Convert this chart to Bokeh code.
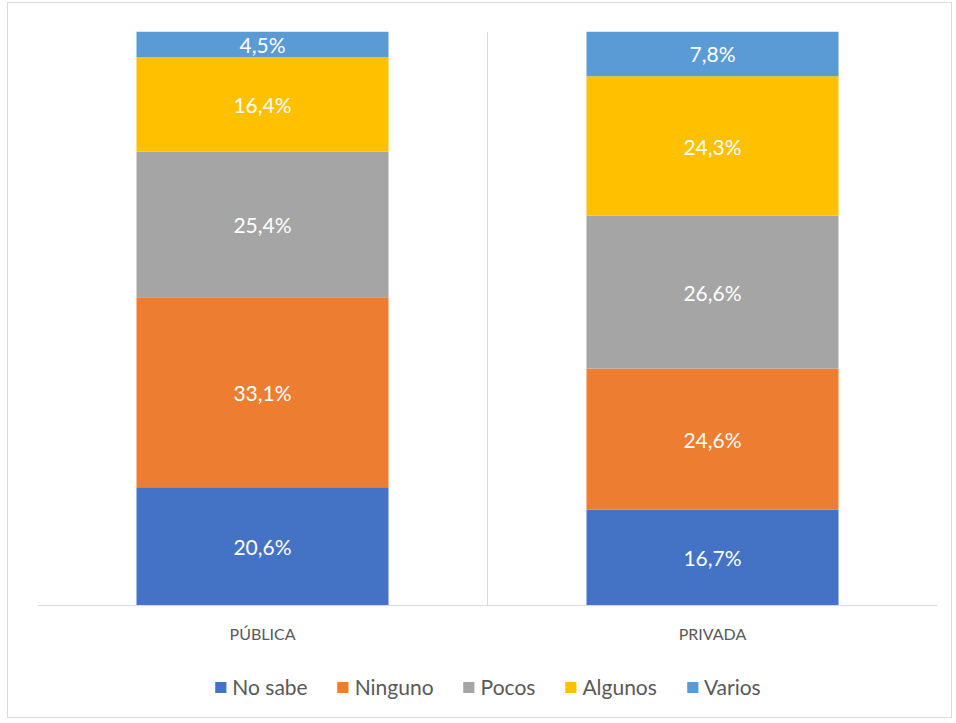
from bokeh.plotting import figure
from bokeh.models import ColumnDataSource, FixedTicker, Legend, LegendItem, LabelSet, Range1d, Span
from bokeh.core.properties import value
from bokeh.embed import file_html
from bokeh.resources import INLINE

categories = ["PÚBLICA", "PRIVADA"]
series = ["No sabe", "Ninguno", "Pocos", "Algunos", "Varios"]
no_sabe = [20.6, 16.7]
ninguno = [33.1, 24.6]
pocos = [25.4, 26.6]
algunos = [16.4, 24.3]
varios = [4.5, 7.8]
colors = ["#4472C4", "#ED7D31", "#A5A5A5", "#FFC000", "#5B9BD5"]

values = [no_sabe, ninguno, pocos, algunos, varios]
xpos = [0.5 + i for i in range(len(categories))]

FONT = "Lato"
GRAY = "#595959"
LINE = "#D9D9D9"

# layout: bars occupy 574 px for 0..100; the frame extends 112 px further down
# to hold the category labels and the legend
BAR_PX = 574
EXTRA_PX = 112
ymin = -100.0 * EXTRA_PX / BAR_PX

p = figure(frame_width=900, frame_height=BAR_PX + EXTRA_PX,
           min_border_left=29, min_border_right=14, min_border_top=28, min_border_bottom=0,
           x_range=Range1d(0, 2), y_range=Range1d(ymin, 100),
           output_backend="svg", toolbar_location=None,
           styles={"border": "1px solid #D9D9D9", "margin": "2px 0 0 7px"})
p.outline_line_color = None
p.background_fill_color = "white"
p.border_fill_color = "white"
p.xaxis.visible = False
p.yaxis.visible = False
p.ygrid.visible = False
p.xgrid.ticker = FixedTicker(ticks=[0, 1, 2])
p.xgrid.grid_line_color = LINE
p.xgrid.grid_line_width = 1
p.xgrid.cross_bounds = (0, 100)

items = []
bottoms = [0.0] * len(categories)
for name, vals, col in zip(series, values, colors):
    tops = [b + v for b, v in zip(bottoms, vals)]
    src = ColumnDataSource(dict(
        x=xpos, bottom=bottoms, top=tops,
        mid=[(b + t) / 2 for b, t in zip(bottoms, tops)],
        lab=[f"{v:.1f}".replace(".", ",") + "%" for v in vals],
    ))
    r = p.vbar(x="x", bottom="bottom", top="top", width=0.56, source=src,
               fill_color=col, line_color=None)
    items.append(LegendItem(label=name, renderers=[r]))
    p.add_layout(LabelSet(x="x", y="mid", text="lab", source=src,
                          text_align="center", text_baseline="middle",
                          text_color="white", text_font=value(FONT), text_font_size="21px"))
    bottoms = tops

# category axis line and labels
p.add_layout(Span(location=0, dimension="width", line_color=LINE, line_width=1))
cat_src = ColumnDataSource(dict(x=xpos, y=[0] * len(categories), t=categories))
p.add_layout(LabelSet(x="x", y="y", text="t", source=cat_src, y_offset=-28,
                      text_align="center", text_baseline="middle",
                      text_color=GRAY, text_font=value(FONT), text_font_size="16px"))

legend = Legend(items=items, orientation="horizontal", location="bottom_center",
                label_text_font=FONT, label_text_font_size="21px", label_text_color=GRAY,
                glyph_width=14, glyph_height=14, label_standoff=5, spacing=28,
                border_line_color=None, background_fill_alpha=0, margin=18, padding=0)
p.add_layout(legend, "center")

open("out.html", "w").write(file_html(p, INLINE))
